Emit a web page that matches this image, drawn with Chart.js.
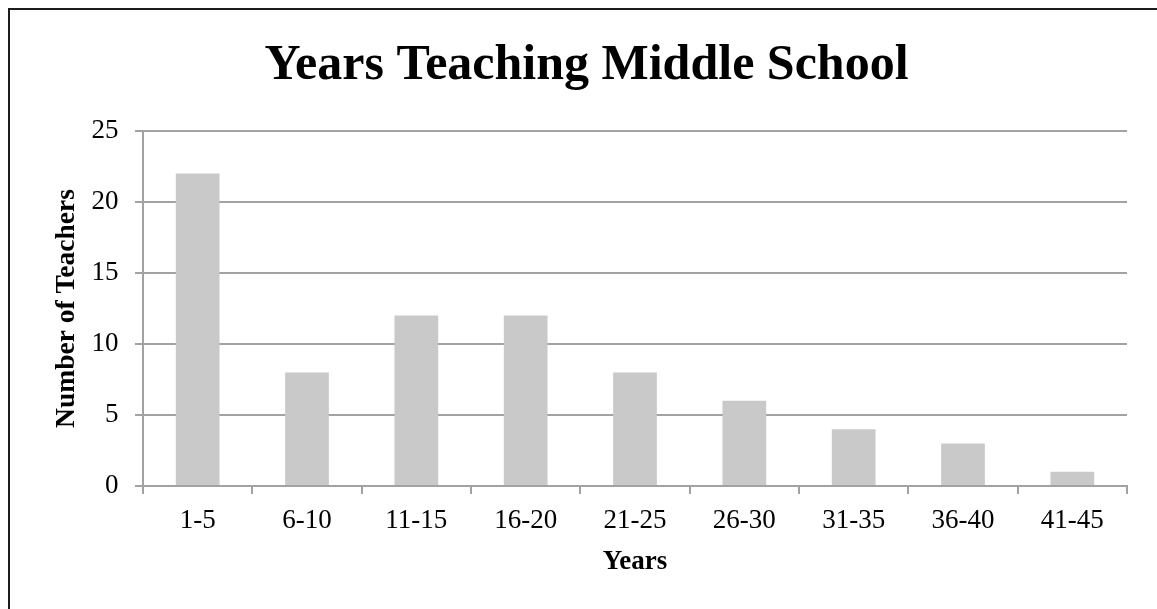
<!DOCTYPE html>
<html>
<head>
<meta charset="utf-8">
<script src="https://cdn.jsdelivr.net/npm/chart.js@4"></script>
<style>
  html, body { margin: 0; padding: 0; background: #fff; overflow: hidden; }
  #wrap { position: relative; width: 1157px; height: 609px; }
  /* outer frame of the original picture, cropped on the right and bottom */
  #frame { position: absolute; left: 8px; top: 8px; width: 1200px; height: 700px; border: 2px solid #1c1c1c; box-sizing: border-box; }
  #chart { position: absolute; left: 0; top: 0; }
</style>
</head>
<body>
<div id="wrap">
  <div id="frame"></div>
  <canvas id="chart" width="1157" height="609"></canvas>
</div>
<script>
// data
const categories = ["1-5", "6-10", "11-15", "16-20", "21-25", "26-30", "31-35", "36-40", "41-45"];
const teachers = [22, 8, 12, 12, 8, 6, 4, 3, 1];
const yMin = 0;
const yMax = 25;
const yStep = 5;

const chartTitle = "Years Teaching Middle School";
const xTitle = "Years";
const yTitle = "Number of Teachers";

const SERIF = "'Liberation Serif', 'Times New Roman', serif";
const AXIS_GRAY = "#a2a2a2";

const ctx = document.getElementById("chart");
new Chart(ctx, {
  type: "bar",
  data: {
    labels: categories,
    datasets: [{
      label: yTitle,
      data: teachers,
      backgroundColor: "#c9c9c9",
      borderWidth: 0,
      categoryPercentage: 1,
      barPercentage: 0.4
    }]
  },
  options: {
    responsive: false,
    animation: false,
    layout: { padding: { left: 46, right: 30, top: 0, bottom: 0 } },
    plugins: {
      legend: { display: false },
      tooltip: { enabled: false },
      title: {
        display: true,
        text: chartTitle,
        color: "#000",
        font: { family: SERIF, size: 50, weight: "bold", lineHeight: 1.2 },
        padding: { top: 36, bottom: 35 }
      }
    },
    scales: {
      x: {
        grid: {
          offset: true,
          drawOnChartArea: false,
          drawTicks: true,
          tickLength: 8,
          color: AXIS_GRAY,
          lineWidth: 2
        },
        border: { color: AXIS_GRAY, width: 2 },
        ticks: {
          color: "#000",
          padding: 11,
          maxRotation: 0,
          font: { family: SERIF, size: 27 }
        },
        title: {
          display: true,
          text: xTitle,
          color: "#000",
          font: { family: SERIF, size: 27, weight: "bold", lineHeight: 1.2 },
          padding: { top: 0, bottom: 31 }
        },
        afterFit: (scale) => { scale.height = 123; }
      },
      y: {
        min: yMin,
        max: yMax,
        grid: {
          color: AXIS_GRAY,
          lineWidth: 2,
          drawTicks: true,
          tickLength: 8
        },
        border: { color: AXIS_GRAY, width: 2 },
        ticks: {
          stepSize: yStep,
          color: "#000",
          padding: 16.5,
          font: { family: SERIF, size: 27 }
        },
        title: {
          display: true,
          text: yTitle,
          color: "#000",
          font: { family: SERIF, size: 27.5, weight: "bold", lineHeight: 1.2 },
          padding: { top: 4, bottom: 0 }
        },
        afterFit: (scale) => { scale.width = 97; }
      }
    }
  }
});
</script>
</body>
</html>
